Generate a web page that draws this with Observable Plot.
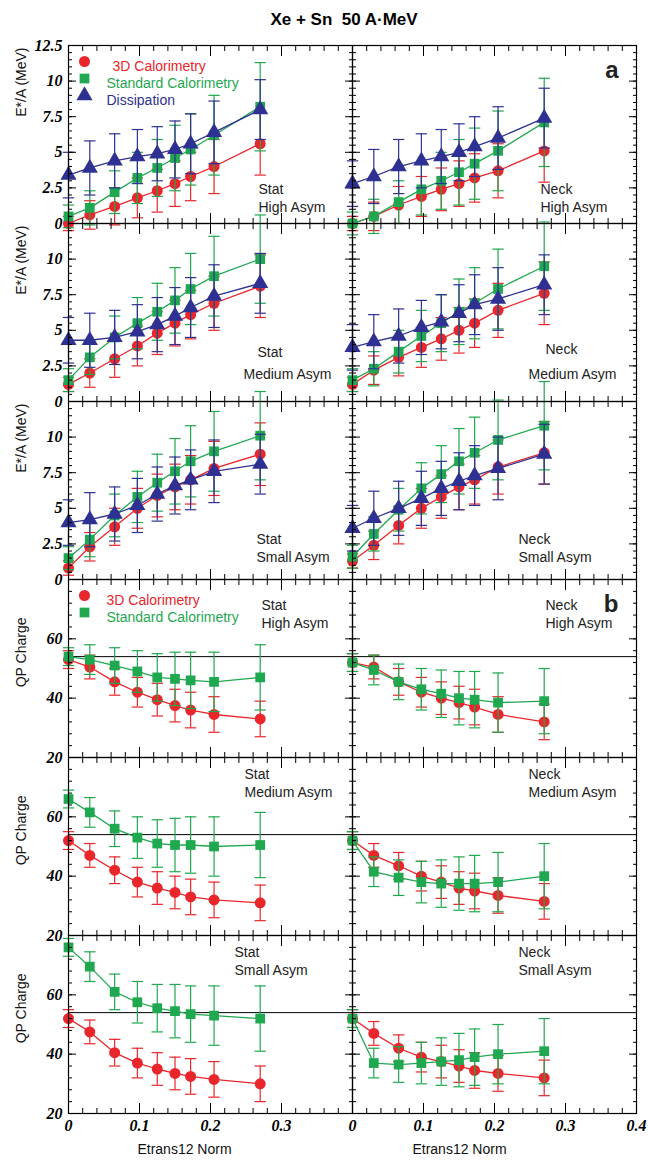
<!DOCTYPE html>
<html><head><meta charset="utf-8">
<script src="https://cdn.jsdelivr.net/npm/d3@7"></script>
<script src="https://cdn.jsdelivr.net/npm/@observablehq/plot@0.6"></script>
<style>
body{margin:0;background:#fff;font-family:"Liberation Sans",Arial,sans-serif}
#title{height:45px;line-height:40px;text-align:center;font-weight:bold;font-size:17px;padding-left:40px}
.row{display:flex;height:178px}
.row.last{height:224px}
svg{overflow:visible}
</style></head>
<body>
<div id="title">Xe + Sn&nbsp;&nbsp;50 A·MeV</div>
<div id="grid"></div>
<script>
// x positions of the Etrans12 Norm bins
const xs = [0, 0.03, 0.065, 0.097, 0.125, 0.15, 0.172, 0.205, 0.27];

// E*/A (MeV) panels
const statHigh3D  = [0, 0.6, 1.2, 1.8, 2.3, 2.8, 3.3, 4.0, 5.6];
const statHighStd = [0.5, 1.1, 2.2, 3.2, 3.9, 4.6, 5.2, 6.2, 8.2];
const statHighDis = [3.4, 3.9, 4.4, 4.7, 4.9, 5.2, 5.6, 6.4, 8.0];
const neckHigh3D  = [0, 0.5, 1.3, 1.9, 2.4, 2.8, 3.2, 3.7, 5.1];
const neckHighStd = [0, 0.5, 1.5, 2.4, 3.0, 3.6, 4.2, 5.1, 7.1];
const neckHighDis = [2.8, 3.3, 4.0, 4.4, 4.7, 5.0, 5.4, 6.0, 7.4];
const statMed3D   = [1.2, 2.0, 3.0, 3.9, 4.8, 5.5, 6.1, 6.9, 8.1];
const statMedStd  = [1.5, 3.1, 4.5, 5.5, 6.3, 7.1, 7.9, 8.8, 10.0];
const statMedDis  = [4.3, 4.3, 4.5, 4.9, 5.4, 6.0, 6.6, 7.4, 8.3];
const neckMed3D   = [1.2, 2.2, 3.1, 3.8, 4.4, 5.0, 5.5, 6.4, 7.6];
const neckMedStd  = [1.5, 2.3, 3.5, 4.6, 5.5, 6.3, 6.9, 7.9, 9.5];
const neckMedDis  = [3.8, 4.2, 4.6, 5.2, 5.6, 6.2, 6.8, 7.2, 8.2];
const statSmall3D  = [0.8, 2.3, 3.7, 5.0, 5.9, 6.5, 7.0, 7.8, 8.8];
const statSmallStd = [1.5, 2.8, 4.5, 5.8, 6.8, 7.6, 8.3, 9.0, 10.1];
const statSmallDis = [4.0, 4.2, 4.6, 5.2, 6.0, 6.6, 7.0, 7.6, 8.1];
const neckSmall3D  = [1.3, 2.4, 3.8, 5.0, 5.8, 6.5, 7.0, 7.9, 8.9];
const neckSmallStd = [1.6, 3.2, 4.9, 6.4, 7.4, 8.3, 8.9, 9.8, 10.8];
const neckSmallDis = [3.6, 4.3, 5.0, 5.7, 6.4, 6.9, 7.3, 7.8, 8.8];
const errE3D  = [0.5, 1.0, 1.3, 1.4, 1.5, 1.6, 1.7, 1.9, 2.2];
const errEStd = [0.8, 1.2, 1.5, 1.8, 2.0, 2.3, 2.5, 2.8, 3.1];
const errEDis = [1.6, 1.9, 1.9, 1.9, 1.9, 2.0, 2.1, 2.2, 2.1];

// QP charge panels
const qStatHigh3D  = [53, 50.5, 45.5, 42, 39.5, 37.5, 36, 34.5, 33];
const qStatHighStd = [54, 53, 51, 49, 47, 46.5, 46, 45.5, 47];
const qNeckHigh3D  = [52, 50.5, 45.5, 42, 40, 38.5, 37, 34.5, 32];
const qNeckHighStd = [52, 49.5, 45.5, 43, 41.5, 40, 39.5, 38.5, 39];
const qStatMed3D   = [52, 47, 42, 38, 36, 34.5, 33, 32, 31];
const qStatMedStd  = [66, 61.5, 56, 53, 51, 50.5, 50.5, 50, 50.5];
const qNeckMed3D   = [52, 47, 43.5, 40, 38, 36, 35, 33.5, 31.5];
const qNeckMedStd  = [52, 41.5, 39.5, 38, 37.5, 37.5, 37.5, 38, 40];
const qStatSmall3D  = [52, 47.5, 40.5, 37, 35, 33.5, 32.5, 31.5, 30];
const qStatSmallStd = [76, 69.5, 61, 57.5, 55.5, 54.5, 53.5, 53, 52];
const qNeckSmall3D  = [52, 47, 42, 39, 37.5, 36, 34.5, 33.5, 32];
const qNeckSmallStd = [52, 37, 36.5, 37, 37.5, 38, 39, 40, 41];
const errQ3D  = [3, 4, 4.5, 5, 5.5, 5.5, 6, 6, 6];
const errQStd = [3, 5, 6, 7, 8, 9, 9.5, 10, 11];
const qpLine = 54;

const C3D = "#e8262b", CSTD = "#1fa84f", CDIS = "#2e3192";
const serif = "Liberation Serif, Times New Roman, serif";

function series(ys, errs, color, symbol) {
  return {color, symbol, data: ys.map((y, i) => ({x: xs[i], y, lo: y - errs[i], hi: y + errs[i]}))};
}

function panel({col, kind, last, sets, l1, l2, d1, d2, y1, y2, legend, letter, yLabel, yTop}) {
  const left = col === 0;
  const isE = kind === "E";
  const yDomain = isE ? [0, 12.5] : [20, 80];
  const yMajor = isE ? (yTop ? [0, 2.5, 5, 7.5, 10, 12.5] : [0, 2.5, 5, 7.5, 10]) : [20, 40, 60];
  const yMinor = isE ? d3.range(0, 12.5, 0.5) : d3.range(20, 80, 4);
  const marks = [];
  if (!isE) marks.push(Plot.ruleY([qpLine], {stroke: "black", strokeWidth: 1}));
  for (const s of sets) {
    marks.push(Plot.ruleX(s.data, {x: "x", y1: "lo", y2: "hi", stroke: s.color, strokeWidth: 1.2}));
    marks.push(Plot.link(s.data, {x1: d => d.x - 0.008, x2: d => d.x + 0.008, y1: "lo", y2: "lo", stroke: s.color, strokeWidth: 1.2}));
    marks.push(Plot.link(s.data, {x1: d => d.x - 0.008, x2: d => d.x + 0.008, y1: "hi", y2: "hi", stroke: s.color, strokeWidth: 1.2}));
    marks.push(Plot.line(s.data, {x: "x", y: "y", stroke: s.color, strokeWidth: 1.3}));
    marks.push(Plot.dot(s.data, {x: "x", y: "y", fill: s.color, symbol: s.symbol, r: s.symbol === "triangle" ? 6 : 5.5}));
  }
  marks.push(Plot.frame({stroke: "black", strokeWidth: 1.2}));
  // inner ticks
  marks.push(Plot.axisY({ticks: yMinor, anchor: "left", tickSize: -4, text: null, label: null}));
  marks.push(Plot.axisY({ticks: yMinor, anchor: "right", tickSize: -4, text: null, label: null}));
  marks.push(Plot.axisY({ticks: yMajor, anchor: "left", tickSize: -8, text: null, label: null}));
  marks.push(Plot.axisY({ticks: yMajor, anchor: "right", tickSize: -8, text: null, label: null}));
  marks.push(Plot.axisX({ticks: d3.range(0, 0.4, 0.02), anchor: "bottom", tickSize: -5, text: null, label: null}));
  marks.push(Plot.axisX({ticks: [0.1, 0.2, 0.3], anchor: "bottom", tickSize: -10, text: null, label: null}));
  marks.push(Plot.axisX({ticks: d3.range(0, 0.4, 0.02), anchor: "top", tickSize: -5, text: null, label: null}));
  marks.push(Plot.axisX({ticks: [0.1, 0.2, 0.3], anchor: "top", tickSize: -10, text: null, label: null}));
  if (left) {
    marks.push(Plot.axisY({ticks: yMajor, anchor: "left", tickSize: 0, tickPadding: 6, tickFormat: d => String(d),
      fontFamily: serif, fontStyle: "italic", fontWeight: "bold", fontSize: 16, label: null}));
    marks.push(Plot.text([yLabel], {frameAnchor: "top-left", rotate: -90, textAnchor: "end", dx: -52, dy: isE ? 2 : 38, fontSize: 14, fill: "#111"}));
  }
  if (last) {
    marks.push(Plot.axisX({ticks: left ? [0, 0.1, 0.2, 0.3] : [0, 0.1, 0.2, 0.3, 0.4], anchor: "bottom", tickSize: 0, tickPadding: 6,
      tickFormat: d => d === 0 ? "0" : d3.format(".1f")(d),
      fontFamily: serif, fontStyle: "italic", fontWeight: "bold", fontSize: 16, label: null}));
    marks.push(Plot.text(["Etrans12 Norm"], {frameAnchor: "bottom", dy: 40, dx: left ? -26 : -35, fontSize: 14, fill: "#111"}));
  }
  const fa = isE ? "bottom" : "top";
  marks.push(Plot.text([l1], {frameAnchor: fa, dx: d1, dy: y1, textAnchor: "start", fontSize: 14, fill: "#222"}));
  marks.push(Plot.text([l2], {frameAnchor: fa, dx: d2, dy: y2, textAnchor: "start", fontSize: 14, fill: "#222"}));
  if (legend) {
    legend.forEach((lg, i) => {
      marks.push(Plot.dot([lg], {frameAnchor: "top-left", dx: 16, dy: 16 + i * 17, symbol: lg.symbol, fill: lg.color, r: lg.symbol === "triangle" ? 6 : 5.5}));
      marks.push(Plot.text([lg.name], {frameAnchor: "top-left", dx: lg.tdx, dy: 16 + i * 17, textAnchor: "start", fill: lg.color, fontSize: 14}));
    });
  }
  if (letter) marks.push(Plot.text([letter], {frameAnchor: "top-right", dx: -18, dy: 15, fontSize: 24, fontWeight: "bold", fill: "#222"}));
  return Plot.plot({
    width: left ? 352 : 296,
    height: last ? 224 : 178,
    marginLeft: left ? 68 : 0,
    marginRight: left ? 0 : 12,
    marginTop: 0,
    marginBottom: last ? 46 : 0,
    x: {domain: [0, 0.4], axis: null},
    y: {domain: yDomain, axis: null},
    style: {fontFamily: "Liberation Sans, Arial, sans-serif", fontSize: "13px", overflow: "visible"},
    marks
  });
}

const legE = [
  {name: "3D Calorimetry", color: C3D, symbol: "circle", tdx: 44},
  {name: "Standard Calorimetry", color: CSTD, symbol: "square", tdx: 38},
  {name: "Dissipation", color: CDIS, symbol: "triangle", tdx: 38}
];
const legQ = [
  {name: "3D Calorimetry", color: C3D, symbol: "circle", tdx: 38},
  {name: "Standard Calorimetry", color: CSTD, symbol: "square", tdx: 38}
];

const rows = [
  [
    {kind: "E", sets: [series(statHigh3D, errE3D, C3D, "circle"), series(statHighStd, errEStd, CSTD, "square"), series(statHighDis, errEDis, CDIS, "triangle")], l1: "Stat", l2: "High Asym", d1: 48, d2: 48, y1: -30, y2: -12, legend: legE, yLabel: "E*/A (MeV)"},
    {kind: "E", sets: [series(neckHigh3D, errE3D, C3D, "circle"), series(neckHighStd, errEStd, CSTD, "square"), series(neckHighDis, errEDis, CDIS, "triangle")], l1: "Neck", l2: "High Asym", d1: 46, d2: 46, y1: -30, y2: -12, letter: "a"}
  ],
  [
    {kind: "E", sets: [series(statMed3D, errE3D, C3D, "circle"), series(statMedStd, errEStd, CSTD, "square"), series(statMedDis, errEDis, CDIS, "triangle")], l1: "Stat", l2: "Medium Asym", d1: 47, d2: 33, y1: -45, y2: -23, yLabel: "E*/A (MeV)"},
    {kind: "E", sets: [series(neckMed3D, errE3D, C3D, "circle"), series(neckMedStd, errEStd, CSTD, "square"), series(neckMedDis, errEDis, CDIS, "triangle")], l1: "Neck", l2: "Medium Asym", d1: 51, d2: 34, y1: -48, y2: -23}
  ],
  [
    {kind: "E", sets: [series(statSmall3D, errE3D, C3D, "circle"), series(statSmallStd, errEStd, CSTD, "square"), series(statSmallDis, errEDis, CDIS, "triangle")], l1: "Stat", l2: "Small Asym", d1: 46, d2: 46, y1: -36, y2: -18, yLabel: "E*/A (MeV)"},
    {kind: "E", sets: [series(neckSmall3D, errE3D, C3D, "circle"), series(neckSmallStd, errEStd, CSTD, "square"), series(neckSmallDis, errEDis, CDIS, "triangle")], l1: "Neck", l2: "Small Asym", d1: 24, d2: 24, y1: -36, y2: -18}
  ],
  [
    {kind: "Q", sets: [series(qStatHigh3D, errQ3D, C3D, "circle"), series(qStatHighStd, errQStd, CSTD, "square")], l1: "Stat", l2: "High Asym", d1: 51, d2: 51, y1: 21, y2: 39, legend: legQ, yLabel: "QP Charge"},
    {kind: "Q", sets: [series(qNeckHigh3D, errQ3D, C3D, "circle"), series(qNeckHighStd, errQStd, CSTD, "square")], l1: "Neck", l2: "High Asym", d1: 51, d2: 51, y1: 21, y2: 39, letter: "b"}
  ],
  [
    {kind: "Q", sets: [series(qStatMed3D, errQ3D, C3D, "circle"), series(qStatMedStd, errQStd, CSTD, "square")], l1: "Stat", l2: "Medium Asym", d1: 34, d2: 34, y1: 12, y2: 30, yLabel: "QP Charge"},
    {kind: "Q", sets: [series(qNeckMed3D, errQ3D, C3D, "circle"), series(qNeckMedStd, errQStd, CSTD, "square")], l1: "Neck", l2: "Medium Asym", d1: 34, d2: 34, y1: 12, y2: 30}
  ],
  [
    {kind: "Q", sets: [series(qStatSmall3D, errQ3D, C3D, "circle"), series(qStatSmallStd, errQStd, CSTD, "square")], l1: "Stat", l2: "Small Asym", d1: 24, d2: 24, y1: 12, y2: 30, yLabel: "QP Charge"},
    {kind: "Q", sets: [series(qNeckSmall3D, errQ3D, C3D, "circle"), series(qNeckSmallStd, errQStd, CSTD, "square")], l1: "Neck", l2: "Small Asym", d1: 24, d2: 24, y1: 12, y2: 30}
  ]
];

const grid = document.querySelector("#grid");
rows.forEach((r, ri) => {
  const div = document.createElement("div");
  div.className = "row" + (ri === rows.length - 1 ? " last" : "");
  r.forEach((p, ci) => {
    div.append(panel({...p, col: ci, last: ri === rows.length - 1, yTop: ri === 0}));
  });
  grid.append(div);
});
</script>
</body></html>
